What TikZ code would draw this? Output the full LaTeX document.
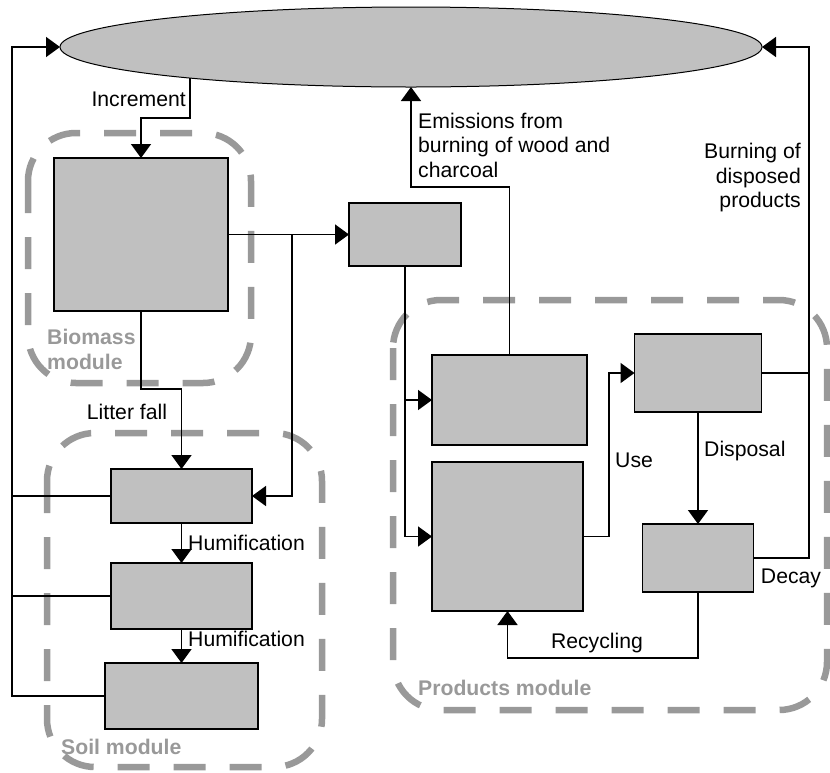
\documentclass[tikz,border=0pt]{standalone}
\usepackage{fontspec}
\setmainfont{Liberation Sans}
\usetikzlibrary{arrows.meta,shapes.geometric}
\definecolor{boxgray}{HTML}{C0C0C0}
\definecolor{modgray}{HTML}{999999}
\newcommand\lblfont{\fontsize{21.2}{24.5}\selectfont}
\begin{document}
\begin{tikzpicture}[x=1pt,y=-1pt,
  pool/.style={draw=black,line width=1.2pt,fill=boxgray,inner sep=0pt,outer sep=0pt},
  flow/.style={line width=1.7pt,-{Triangle[length=14pt 0 0,width=20pt 0 0]}},
  conn/.style={line width=1.7pt},
  module/.style={draw=modgray,line width=6.5pt,dash pattern=on 32pt off 24pt,rounded corners=48pt},
  modlabel/.style={font=\lblfont\bfseries,text=modgray,inner sep=0pt},
  lbl/.style={font=\lblfont,inner sep=0pt}]
\useasboundingbox (0,0) rectangle (830,772);

% module outlines (behind everything)
\draw[module] (28,133) rectangle (251,383);
\draw[module] (47,433) rectangle (322,767);
\draw[module] (393,300) rectangle (827,710);

% atmosphere
\node[pool,ellipse,line width=1pt,minimum width=702pt,minimum height=80pt] (atm) at (411,47) {};

% biomass
\node[pool,minimum width=174pt,minimum height=153pt] (bio) at (141,234.5) {};
% intermediate pool
\node[pool,minimum width=112pt,minimum height=63pt] (mid) at (405,234.5) {};
% soil pools
\node[pool,minimum width=141pt,minimum height=54pt] (s1) at (181.5,496) {};
\node[pool,minimum width=141pt,minimum height=66pt] (s2) at (181.5,596) {};
\node[pool,minimum width=153pt,minimum height=66pt] (s3) at (181.5,696) {};
% product pools
\node[pool,minimum width=155pt,minimum height=90pt] (pA) at (509.5,400) {};
\node[pool,minimum width=151pt,minimum height=149pt] (pB) at (507.5,536.5) {};
\node[pool,minimum width=127pt,minimum height=78pt] (pC) at (698,373) {};
\node[pool,minimum width=111pt,minimum height=68pt] (pD) at (698,558) {};

% return paths to the atmosphere
\coordinate (L) at (12,47);
\coordinate (R) at (809,47);
\draw[flow] (s3.west) -| (L) -- (atm.west);
\draw[conn] (s2.west) -- (s2.west -| L);
\draw[conn] (s1.west) -- (s1.west -| L);
\draw[flow] (pD.east) -| (R) -- (atm.east);
\draw[conn] (pC.east) -- (pC.east -| R);

% increment
\coordinate (inc) at (189,118);
\draw[flow] (atm.188) |- (inc) -| (bio.north);
\node[lbl,anchor=east] (tinc) at (186,99) {Increment};

% harvest
\coordinate (jb) at (292,234.5);
\draw[flow] (bio.east) -- (mid.west);
\draw[flow] (jb) |- (s1.east);

% litter fall and humification
\draw[flow] (bio.south) -- ++(0,78) -| (s1.north);
\node[lbl] (tlit) at (127,412) {Litter fall};
\draw[flow] (s1.south) -- (s2.north);
\draw[flow] (s2.south) -- (s3.north);
\node[lbl,anchor=west] (th1) at (188,543) {Humification};
\node[lbl,anchor=west] (th2) at (188,639) {Humification};

% wood products
\draw[flow] (mid.south) |- (pB.west);
\draw[flow] (mid.south |- pA.west) -- (pA.west);
\draw[flow] (pA.north) -- ++(0,-168) -| (atm.south);
\node[lbl,anchor=west,align=left] (temi) at (418,145) {Emissions from\\burning of wood and\\charcoal};
\node[lbl,anchor=east,align=right] (tburn) at (801,178) {Burning of\\disposed\\products};

\draw[flow] (pB.east) -- ++(26,0) |- (pC.west);
\node[lbl,anchor=west] (tuse) at (615,460) {Use};
\draw[flow] (pC.south) -- (pD.north);
\node[lbl,anchor=west] (tdis) at (704,451) {Disposal};
\node[lbl] (tdec) at (791,578) {Decay};
\draw[flow] (pD.south) -- ++(0,66) -| (pB.south);
\node[lbl] (trec) at (597,643) {Recycling};

% module names
\node[modlabel,anchor=west,align=left] (mbio) at (47,349.5) {Biomass\\module};
\node[modlabel,anchor=west] (msoil) at (61,747) {Soil module};
\node[modlabel,anchor=west] (mprod) at (418,688) {Products module};
\end{tikzpicture}
\end{document}
